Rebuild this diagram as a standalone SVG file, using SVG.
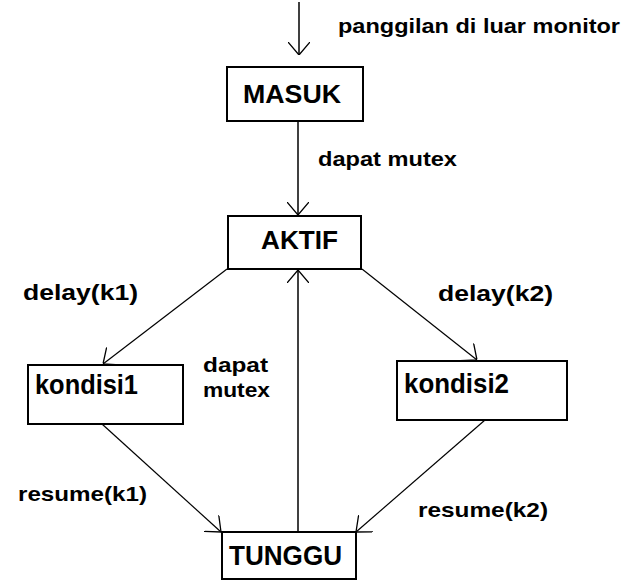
<svg xmlns="http://www.w3.org/2000/svg" width="629" height="580" viewBox="0 0 629 580">
<style>
.box{fill:#fff;stroke:#000;stroke-width:2}
.t{font-family:"Liberation Sans",Arial,sans-serif;font-weight:bold;fill:#000}
.c{fill:none;stroke:#000;stroke-width:1.5}
.d{fill:none;stroke:#000;stroke-width:1.2}
</style>
<defs>
<marker id="arr" markerUnits="userSpaceOnUse" viewBox="0 0 13 22" markerWidth="13" markerHeight="22" refX="13" refY="11" orient="auto">
<path d="M0,0 L13,11 L0,22" fill="none" stroke="#000" stroke-width="1.3"/>
</marker>
</defs>
<rect width="629" height="580" fill="#fff"/>
<g id="connectors">
<line class="c" x1="299" y1="2" x2="299" y2="55" marker-end="url(#arr)"/>
<line class="c" x1="298" y1="121" x2="298" y2="215" marker-end="url(#arr)"/>
<line class="d" x1="227" y1="269" x2="103" y2="364" marker-end="url(#arr)"/>
<line class="d" x1="362" y1="269" x2="477" y2="360" marker-end="url(#arr)"/>
<line class="d" x1="102" y1="424" x2="221" y2="532" marker-end="url(#arr)"/>
<line class="d" x1="485" y1="420" x2="356" y2="532" marker-end="url(#arr)"/>
<line class="c" x1="298" y1="532" x2="298" y2="270" marker-end="url(#arr)"/>
</g>
<g id="labels">
<text class="t" x="338" y="33" font-size="21" textLength="282" lengthAdjust="spacingAndGlyphs">panggilan di luar monitor</text>
<text class="t" x="318" y="166" font-size="20" textLength="139" lengthAdjust="spacingAndGlyphs">dapat mutex</text>
<text class="t" x="23" y="300" font-size="22" textLength="115" lengthAdjust="spacingAndGlyphs">delay(k1)</text>
<text class="t" x="438" y="301" font-size="22" textLength="115" lengthAdjust="spacingAndGlyphs">delay(k2)</text>
<text class="t" x="203" y="372" font-size="20" textLength="65" lengthAdjust="spacingAndGlyphs">dapat</text>
<text class="t" x="203" y="397" font-size="20" textLength="67" lengthAdjust="spacingAndGlyphs">mutex</text>
<text class="t" x="18" y="501" font-size="21" textLength="129" lengthAdjust="spacingAndGlyphs">resume(k1)</text>
<text class="t" x="418" y="517" font-size="21" textLength="130" lengthAdjust="spacingAndGlyphs">resume(k2)</text>
</g>
<g id="masuk">
<rect class="box" x="227" y="67" width="136" height="54"/>
<text class="t" x="243" y="103" font-size="26" textLength="98" lengthAdjust="spacingAndGlyphs">MASUK</text>
</g>
<g id="aktif">
<rect class="box" x="228" y="216" width="133" height="53"/>
<text class="t" x="261" y="249" font-size="25" textLength="77" lengthAdjust="spacingAndGlyphs">AKTIF</text>
</g>
<g id="kondisi1">
<rect class="box" x="28" y="365" width="155" height="59"/>
<text class="t" x="35" y="394" font-size="28" textLength="103" lengthAdjust="spacingAndGlyphs">kondisi1</text>
</g>
<g id="kondisi2">
<rect class="box" x="397" y="361" width="170" height="59"/>
<text class="t" x="404" y="393" font-size="28" textLength="105" lengthAdjust="spacingAndGlyphs">kondisi2</text>
</g>
<g id="tunggu">
<rect class="box" x="222" y="532" width="134" height="47"/>
<text class="t" x="229" y="565" font-size="27" textLength="113" lengthAdjust="spacingAndGlyphs">TUNGGU</text>
</g>
</svg>
